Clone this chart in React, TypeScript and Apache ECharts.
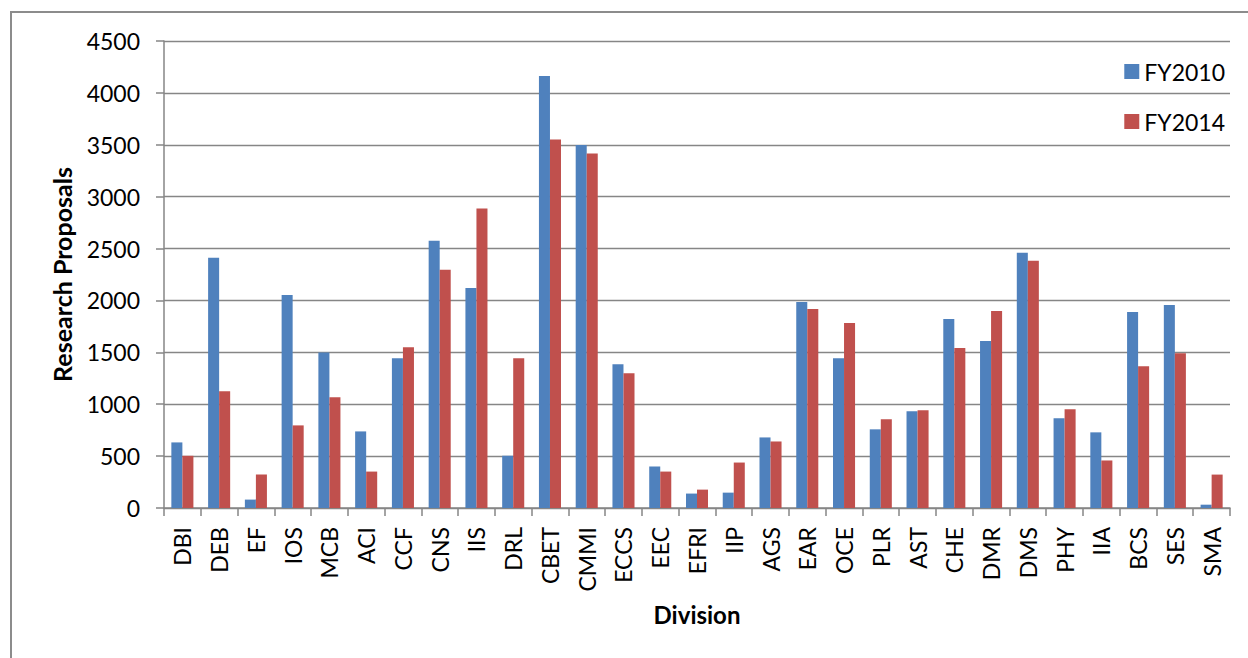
import React, { useEffect, useRef } from "react";
import * as echarts from "echarts";

const categories = ["DBI","DEB","EF","IOS","MCB","ACI","CCF","CNS","IIS","DRL","CBET","CMMI","ECCS","EEC","EFRI","IIP","AGS","EAR","OCE","PLR","AST","CHE","DMR","DMS","PHY","IIA","BCS","SES","SMA"];
const fy2010 = [632,2411,81,2053,1499,738,1444,2576,2121,503,4162,3498,1386,400,139,148,680,1986,1444,758,932,1821,1609,2460,864,729,1889,1957,32];
const fy2014 = [503,1125,322,796,1067,351,1550,2295,2885,1444,3552,3417,1299,351,177,438,641,1918,1783,854,941,1541,1899,2382,951,458,1367,1492,322];
const seriesNames = ["FY2010", "FY2014"];
const yMin = 0;
const yMax = 4500;
const yInterval = 500;

const FONT = "Lato, 'Open Sans', sans-serif";
const GRAY = "#868686";

export default function App() {
  const ref = useRef<HTMLDivElement>(null);
  useEffect(() => {
    if (!ref.current) return;
    const chart = echarts.init(ref.current, undefined, { renderer: "svg" });
    chart.setOption({
      animation: false,
      backgroundColor: "#ffffff",
      textStyle: { fontFamily: FONT },
      graphic: [
        {
          type: "rect",
          shape: { x: 11, y: 12, width: 1260, height: 700 },
          style: { fill: "none", stroke: "#8c8c8c", lineWidth: 2 },
          silent: true,
          z: -10,
        },
      ],
      grid: { left: 164, right: 18, top: 41, bottom: 150, containLabel: false },
      legend: {
        orient: "vertical",
        right: 18,
        top: 55,
        itemWidth: 15,
        itemHeight: 15,
        itemGap: 27,
        icon: "rect",
        textStyle: { fontFamily: FONT, fontSize: 23, color: "#000", lineHeight: 22 },
        data: seriesNames,
      },
      xAxis: {
        type: "category",
        data: categories,
        name: "Division",
        nameLocation: "middle",
        nameGap: 94,
        nameTextStyle: { fontFamily: FONT, fontSize: 24, fontWeight: "bold", color: "#000" },
        axisLine: { show: true, lineStyle: { color: GRAY, width: 1.5 } },
        axisTick: { show: true, length: 8, lineStyle: { color: GRAY, width: 1.5 } },
        axisLabel: { rotate: 90, margin: 19, fontFamily: FONT, fontSize: 23, color: "#000", interval: 0 },
        splitLine: { show: false },
      },
      yAxis: {
        type: "value",
        min: yMin,
        max: yMax,
        interval: yInterval,
        name: "Research Proposals",
        nameLocation: "middle",
        nameRotate: 90,
        nameGap: 90,
        nameTextStyle: { fontFamily: FONT, fontSize: 25, fontWeight: "bold", color: "#000" },
        axisLine: { show: true, lineStyle: { color: GRAY, width: 1.5 } },
        axisTick: { show: true, length: 8, lineStyle: { color: GRAY, width: 1.5 } },
        axisLabel: {
          margin: 24,
          fontFamily: FONT,
          fontSize: 23,
          color: "#000",
          formatter: (v: number) => String(v),
        },
        splitLine: { show: true, lineStyle: { color: GRAY, width: 1.3 } },
      },
      series: [
        {
          name: seriesNames[0],
          type: "bar",
          data: fy2010,
          itemStyle: { color: "#4F81BD" },
          barGap: "0%",
          barCategoryGap: "40%",
        },
        {
          name: seriesNames[1],
          type: "bar",
          data: fy2014,
          itemStyle: { color: "#C0504D" },
          barGap: "0%",
          barCategoryGap: "40%",
        },
      ],
    });
    return () => chart.dispose();
  }, []);
  return (
    <div
      ref={ref}
      style={{ position: "fixed", left: 0, top: 0, width: 1248, height: 658, background: "#fff" }}
    />
  );
}
